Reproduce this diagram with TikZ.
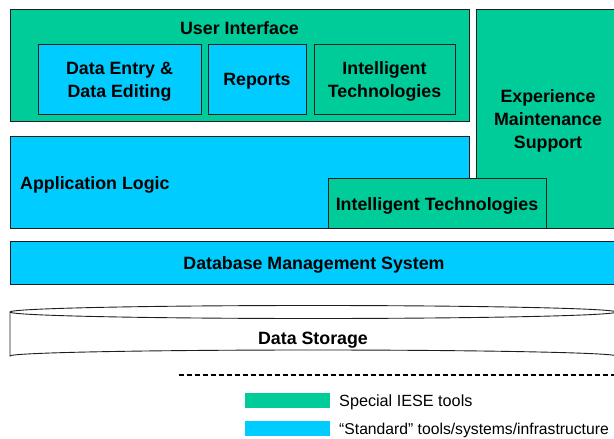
\documentclass[tikz,border=0pt]{standalone}
\usepackage{fontspec}
\setmainfont{Liberation Sans}
\definecolor{iesegreen}{RGB}{0,204,153}
\definecolor{stdblue}{RGB}{0,204,255}
\definecolor{edge}{RGB}{30,30,30}
\begin{document}
\begin{tikzpicture}[x=1pt,y=-1pt,
  box/.style={draw=edge,line width=0.9pt,inner sep=0pt},
  greenbox/.style={box,fill=iesegreen},
  bluebox/.style={box,fill=stdblue},
  boxtext/.style={inner sep=0pt,align=center,yshift=-2.5pt,
    font=\fontsize{17.8}{23}\selectfont\bfseries},
  legendtext/.style={inner sep=0pt,anchor=west,yshift=-2pt,
    font=\fontsize{16.2}{19}\selectfont}]
\useasboundingbox (0,0) rectangle (614,439);
\clip (0,0) rectangle (614,439);
% User interface
\node[greenbox,minimum width=459pt,minimum height=112pt] (ui) at (239.5,65) {};
\node[boxtext] (uitext) at (239.5,26) {User Interface};
\node[bluebox,minimum width=163pt,minimum height=70pt] (entry) at (119.5,79) {};
\node[boxtext] (entrytext) at (entry.center) {Data Entry \&\\Data Editing};
\node[bluebox,minimum width=98pt,minimum height=70pt] (reports) at (257,79) {};
\node[boxtext] (reportstext) at (reports.center) {Reports};
\node[greenbox,minimum width=141pt,minimum height=70pt] (itup) at (384.5,79) {};
\node[boxtext] (ituptext) at (itup.center) {Intelligent\\Technologies};
% Application logic
\node[bluebox,minimum width=459pt,minimum height=92pt] (app) at (239.5,182) {};
\node[boxtext,anchor=west] (apptext) at (20,182) {Application Logic};
% Experience maintenance
\node[greenbox,minimum width=144pt,minimum height=219pt] (exp) at (548,118.5) {};
\node[boxtext] (exptext) at (exp.center) {Experience\\Maintenance\\Support};
% Intelligent technologies (lower)
\node[greenbox,minimum width=218pt,minimum height=50pt] (itlow) at (437,203) {};
\node[boxtext] (itlowtext) at (itlow.center) {Intelligent Technologies};
% DBMS
\node[bluebox,minimum width=610pt,minimum height=43pt] (dbms) at (315,262.5) {};
\node[boxtext] (dbmstext) at (314,262.5) {Database Management System};
% Data storage cylinder
\filldraw[fill=white,draw=edge,line width=0.9pt] (10,312) -- (10,356)
  arc[start angle=180,end angle=360,x radius=303,y radius=6] -- (616,312)
  arc[start angle=0,end angle=180,x radius=303,y radius=6.5] -- cycle;
\draw[edge,line width=0.9pt] (10,312) arc[start angle=180,end angle=360,x radius=303,y radius=6.5];
\node[boxtext] (storage) at (313,338) {Data Storage};
% dashed separator
\coordinate (dashA) at (179,375);
\coordinate (dashB) at (614,375);
\draw[line width=1.8pt,dash pattern=on 4.5pt off 3.5pt] (dashA) -- (dashB);
% legend
\node[fill=iesegreen,minimum width=85pt,minimum height=15pt,inner sep=0pt] (lg) at (287.5,400.5) {};
\node[legendtext] (lgt) at (339,400.5) {Special IESE tools};
\node[fill=stdblue,minimum width=85pt,minimum height=15pt,inner sep=0pt] (lb) at (287.5,428.5) {};
\node[legendtext,font=\fontsize{15.7}{19}\selectfont] (lbt) at (339,428.5) {“Standard” tools/systems/infrastructure};
\end{tikzpicture}
\end{document}
